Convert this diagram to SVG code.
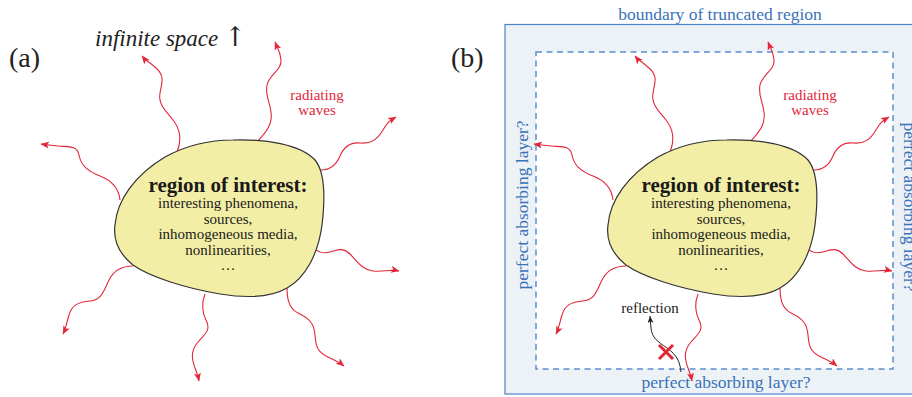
<svg xmlns="http://www.w3.org/2000/svg" width="912" height="397" viewBox="0 0 912 397">
<style>
text{font-family:"Liberation Serif","Times New Roman",serif;}
.lbl{font-size:28px;fill:#222;}
.wave{fill:none;stroke:#e3263a;stroke-width:1.1;marker-end:url(#ah);}
.blob{fill:#f3eea6;stroke:#333;stroke-width:1.2;}
.title{font-size:21px;font-weight:bold;fill:#1a1a1a;text-anchor:middle;}
.body{font-size:15px;fill:#1a1a1a;text-anchor:middle;}
.red{font-size:15px;fill:#e3263a;text-anchor:middle;}
.blue{font-size:17.5px;fill:#3a72b8;text-anchor:middle;}
</style>
<defs>
<marker id="ah" markerUnits="userSpaceOnUse" markerWidth="10" markerHeight="8" refX="8" refY="3.5" orient="auto">
<path d="M0,0 L8.5,3.5 L0,7 L2,3.5 Z" fill="#e3263a"/>
</marker>
<marker id="ahk" markerUnits="userSpaceOnUse" markerWidth="10" markerHeight="8" refX="7" refY="3" orient="auto">
<path d="M0,0 L7,3 L0,6 L1.8,3 Z" fill="#222"/>
</marker>
</defs>

<!-- panel b background -->
<g id="truncated-region">
<rect x="505" y="24.5" width="420" height="369.5" fill="#edf2f7" stroke="#4a84c6" stroke-width="1.2"/>
<rect x="536" y="52" width="357" height="317" fill="#ffffff" stroke="#5a8fd0" stroke-width="1.5" stroke-dasharray="6 4.5"/>
</g>

<g id="connectors">
<g id="waves-a">
<path class="wave" d="M177,152 C181,142 181,130 173,120 S158,104 160,93 S165,76 156,68 S146,61 142,56"/>
<path class="wave" d="M257,142 C265,133 273,125 271,112 S265,95 267,85 S282,70 281,60 S277,47 275,42"/>
<path class="wave" d="M321,170 C331,170 337,163 340,156 S349,142 360,143 S377,140 383,130 S391,120 396,117"/>
<path class="wave" d="M120,200 C119,190 113,181 100,176 S81,165 79,155 S68,147 58,146 S48,145 41,144"/>
<path class="wave" d="M313,247 C317,252 322,254 330,252 S343,247 350,254 S362,270 373,271 S390,269 399,271"/>
<path class="wave" d="M287,287 C287,297 288,308 298,313 S314,322 315,335 S318,352 328,357 S339,362 344,366"/>
<path class="wave" d="M205,294 C202,302 201,310 206,320 S206,333 198,342 S192,360 195,368 S198,376 199,381"/>
<path class="wave" d="M133,266 C123,266 114,270 109,280 S102,300 90,301 S72,305 69,315 S66,328 63,334"/>
</g>
<g id="waves-b" transform="translate(493,0)">
<path class="wave" d="M177,152 C181,142 181,130 173,120 S158,104 160,93 S165,76 156,68 S146,61 142,56"/>
<path class="wave" d="M257,142 C265,133 273,125 271,112 S265,95 267,85 S282,70 281,60 S277,47 275,42"/>
<path class="wave" d="M321,170 C331,170 337,163 340,156 S349,142 360,143 S377,140 383,130 S391,120 396,117"/>
<path class="wave" d="M120,200 C119,190 113,181 100,176 S81,165 79,155 S68,147 58,146 S48,145 41,144"/>
<path class="wave" d="M313,247 C317,252 322,254 330,252 S343,247 350,254 S362,270 373,271 S390,269 399,271"/>
<path class="wave" d="M287,287 C287,297 288,308 298,313 S314,322 315,335 S318,352 328,357 S339,362 344,366"/>
<path class="wave" d="M205,294 C202,302 201,310 206,320 S206,333 198,342 S192,360 195,368 S198,376 199,381"/>
<path class="wave" d="M133,266 C123,266 114,270 109,280 S102,300 90,301 S72,305 69,315 S66,328 63,334"/>
</g>
<path id="reflection-arrow" d="M681,372 C680,362 677,355 667,348 S652,338 651,328 L650,316" fill="none" stroke="#222" stroke-width="1" marker-end="url(#ahk)"/>
</g>

<g id="blob-a">
<path class="blob" d="M233,140 C265,139 300,144 315,160 C325,172 325,200 322,225 C318,255 305,278 287,288 C270,298 245,298 220,294 C185,288 150,277 133,265 C118,253 113,240 115,225 C117,200 135,175 165,157 C185,146 210,140 233,140 Z"/>
<text class="title" x="228" y="192">region of interest:</text>
<text class="body" x="228" y="208">interesting phenomena,</text>
<text class="body" x="228" y="223.5">sources,</text>
<text class="body" x="228" y="239">inhomogeneous media,</text>
<text class="body" x="228" y="254.5">nonlinearities,</text>
<text class="body" x="228" y="270">…</text>
</g>

<g id="blob-b" transform="translate(493,0)">
<path class="blob" d="M233,140 C265,139 300,144 315,160 C325,172 325,200 322,225 C318,255 305,278 287,288 C270,298 245,298 220,294 C185,288 150,277 133,265 C118,253 113,240 115,225 C117,200 135,175 165,157 C185,146 210,140 233,140 Z"/>
<text class="title" x="228" y="192">region of interest:</text>
<text class="body" x="228" y="208">interesting phenomena,</text>
<text class="body" x="228" y="223.5">sources,</text>
<text class="body" x="228" y="239">inhomogeneous media,</text>
<text class="body" x="228" y="254.5">nonlinearities,</text>
<text class="body" x="228" y="270">…</text>
</g>

<g id="labels">
<text class="lbl" x="9" y="67">(a)</text>
<text class="lbl" x="451" y="67">(b)</text>
<text x="95" y="46" style="font-size:23px;font-style:italic;fill:#222;">infinite space <tspan style="font-style:normal;font-family:'DejaVu Serif',serif;font-size:27px;">↑</tspan></text>
<text class="red" x="317" y="100">radiating</text>
<text class="red" x="317" y="115">waves</text>
<text class="red" x="810" y="100">radiating</text>
<text class="red" x="810" y="115">waves</text>
<text class="blue" x="720" y="19.5">boundary of truncated region</text>
<text class="blue" x="726" y="388">perfect absorbing layer?</text>
<text class="blue" transform="translate(528,205) rotate(-90)">perfect absorbing layer?</text>
<text class="blue" transform="translate(904,207) rotate(90)">perfect absorbing layer?</text>
<text x="650" y="313" style="font-size:15px;fill:#222;text-anchor:middle;">reflection</text>
</g>

<g id="blocked-mark" stroke="#e3263a" stroke-width="3" stroke-linecap="butt">
<line x1="659" y1="345" x2="673" y2="359"/>
<line x1="673" y1="345" x2="659" y2="359"/>
</g>
</svg>
